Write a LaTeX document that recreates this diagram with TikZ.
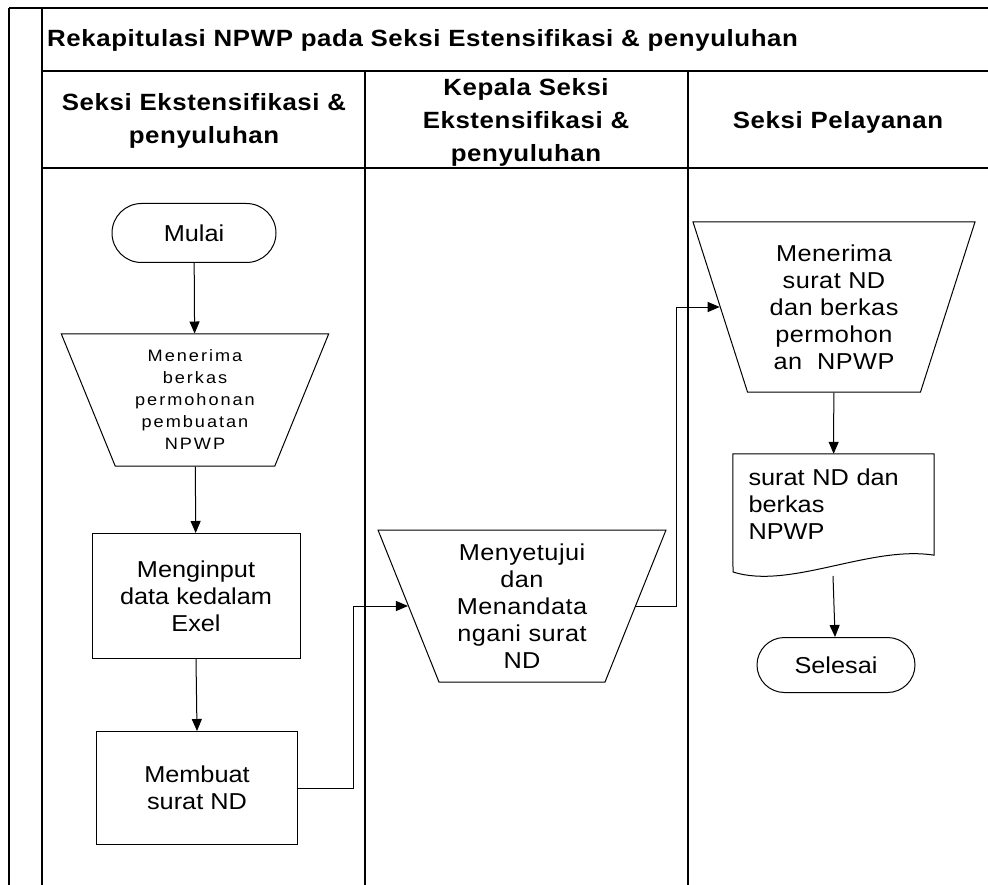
\documentclass[tikz,border=0pt]{standalone}
\usepackage{fontspec}
\setmainfont{Liberation Sans}[FakeStretch=1.1, BoldFeatures={LetterSpace=2.5}]
\newfontfamily\renggang{Liberation Sans}[FakeStretch=1.1, LetterSpace=12]
\newfontfamily\agakrenggang{Liberation Sans}[FakeStretch=1.1, LetterSpace=2]
\usepackage{pgf, tikz}
\usetikzlibrary{shapes.geometric, shapes.misc, arrows.meta}
\pgfdeclarelayer{edgelayer}
\pgfdeclarelayer{nodelayer}
\pgfsetlayers{edgelayer,nodelayer,main}
\tikzstyle{garis}=[draw=black, line width=1.6pt]
\tikzstyle{edge}=[draw=black, line width=1pt, -{Triangle[length=12pt,width=10pt]}]
\tikzstyle{terminal}=[rounded rectangle, draw=black, line width=1pt, fill=white, inner sep=0pt, font=\fontsize{23}{27}\selectfont]
\tikzstyle{proses}=[rectangle, draw=black, line width=1pt, fill=white, inner sep=0pt, align=center, font=\fontsize{23}{27}\selectfont]
\tikzstyle{manual}=[trapezium, shape border rotate=180, trapezium stretches=true, draw=black, line width=1pt, fill=white, inner sep=0pt, align=center, font=\agakrenggang\fontsize{23}{27}\selectfont]
\tikzstyle{dokumen}=[inner sep=0pt, align=left, text width=170, font=\fontsize{23}{27}\selectfont]
\tikzstyle{judul}=[inner sep=0pt, align=center, font=\fontsize{23.5}{33}\selectfont\bfseries]

\begin{document}
\begin{tikzpicture}[x=1pt, y=-1pt]
				\useasboundingbox (0, 0) rectangle (988, 885);
				% lajur
				\draw [style=garis] (9, 8) -- (988, 8);
				\draw [style=garis] (9, 8) -- (9, 885);
				\draw [style=garis] (42, 8) -- (42, 885);
				\draw [style=garis] (42, 71) -- (988, 71);
				\draw [style=garis] (42, 168) -- (988, 168);
				\draw [style=garis] (365, 71) -- (365, 885);
				\draw [style=garis] (688, 71) -- (688, 885);
				\node [style=judul, anchor=west] (j0) at (47, 40) {Rekapitulasi NPWP pada Seksi Estensifikasi \& penyuluhan};
				\node [style=judul] (j1) at (204, 121) {Seksi Ekstensifikasi \&\\penyuluhan};
				\node [style=judul] (j2) at (526, 122) {Kepala Seksi\\Ekstensifikasi \&\\penyuluhan};
				\node [style=judul] (j3) at (838, 122) {Seksi Pelayanan};
				% dokumen: teks di atas, bentuknya di nodelayer
				\node [style=dokumen, minimum width=201, minimum height=101] (6) at (833.5, 504.5) {surat ND dan\\berkas\\NPWP\\[14pt]};
				\begin{pgfonlayer}{nodelayer}
					\node [style=terminal, minimum width=164, minimum height=59] (0) at (194, 233) {Mulai};
					\node [style=manual, minimum width=268, minimum height=132, trapezium left angle=68, trapezium right angle=68, font=\renggang\fontsize{16.5}{22}\selectfont] (1) at (195, 400) {Menerima\\berkas\\permohonan\\pembuatan\\NPWP};
					\node [style=proses, minimum width=208, minimum height=125] (2) at (196, 596) {Menginput\\data kedalam\\Exel};
					\node [style=proses, minimum width=201, minimum height=113] (3) at (197, 788) {Membuat\\surat ND};
					\node [style=manual, minimum width=289, minimum height=152, trapezium left angle=69, trapezium right angle=69] (4) at (522, 606) {Menyetujui\\dan\\Menandata\\ngani surat\\ND};
					\node [style=manual, minimum width=282, minimum height=170, trapezium left angle=72, trapezium right angle=72] (5) at (834, 307) {Menerima\\surat ND\\dan berkas\\permohon\\an~~NPWP};
					\draw [line width=1pt, fill=white] (6.north west) -- (6.north east) -- (6.south east) .. controls (870, 545) and (790, 590) .. (733, 572) -- cycle;
					\node [style=terminal, minimum width=158, minimum height=55] (7) at (836, 665) {Selesai};
				\end{pgfonlayer}
				\coordinate (8) at (833, 576);
				\begin{pgfonlayer}{edgelayer}
					\draw [style=edge] (0) to (1);
					\draw [style=edge] (1) to (2);
					\draw [style=edge] (2.south) to (3.north);
					\draw [style=edge] (3.east) -- ++(55, 0) |- (4);
					\draw [style=edge] (4.east) -- ++(40, 0) |- (5);
					\draw [style=edge] (5) to (6);
					\draw [style=edge] (8) to (7);
				\end{pgfonlayer}
			\end{tikzpicture}
\end{document}
